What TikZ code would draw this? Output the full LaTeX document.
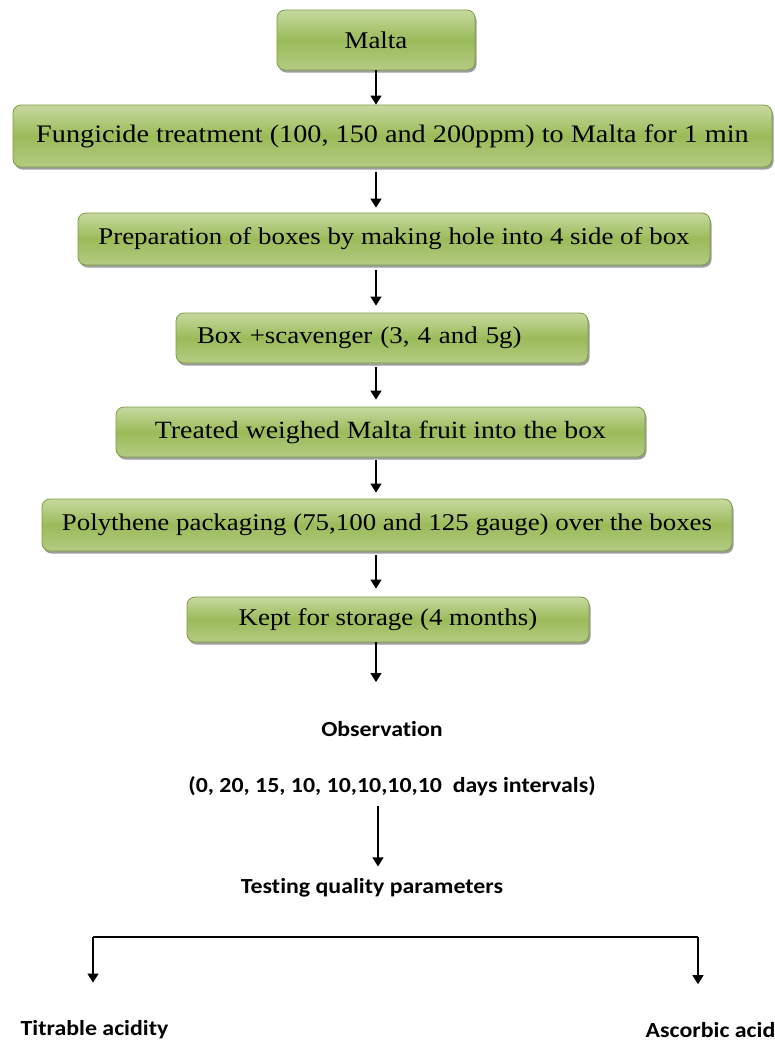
\documentclass[tikz,border=0pt]{standalone}
\usepackage{fontspec}
\setmainfont{Liberation Serif}
\newfontfamily\boxfont[FakeStretch=1.12]{Liberation Serif}
\newfontfamily\labfont[FakeStretch=1.11,Ligatures=NoCommon]{Carlito}
\usetikzlibrary{arrows.meta,shadows}
\definecolor{gLight}{HTML}{C6D9A0}
\definecolor{gMid}{HTML}{9BBB59}
\definecolor{gLow}{HTML}{B3CB83}
\definecolor{gEdge}{HTML}{7F9C45}
\tikzset{
  flowbox/.style={draw=gEdge, line width=0.8pt, rounded corners=8pt,
    top color=gLight, bottom color=gLow, middle color=gMid,
    drop shadow={shadow xshift=1.5pt, shadow yshift=-2.5pt, opacity=0.55, fill=black!70},
    inner sep=0pt, font=\boxfont\fontsize{24}{28}\selectfont, text=black},
  plainlab/.style={inner sep=0pt, font=\labfont\bfseries\fontsize{21.5}{25}\selectfont, text=black},
  arr/.style={line width=1.4pt, -{Triangle[width=11pt,length=9pt]}},
  ln/.style={line width=1.4pt}
}
\begin{document}
\begin{tikzpicture}[x=1pt,y=-1pt]
\useasboundingbox (0,0) rectangle (775,1042);
\coordinate (ax) at (376,0);
\node[flowbox, minimum width=198pt, minimum height=60pt] (b1) at (376,40) {Malta};
\node[flowbox, minimum width=759pt, minimum height=62pt, font=\boxfont\fontsize{25.2}{29}\selectfont] (b2) at (392.5,136) {Fungicide treatment (100, 150 and 200ppm) to Malta for 1 min};
\node[flowbox, minimum width=632pt, minimum height=52pt] (b3) at (394,239) {Preparation of boxes by making hole into 4 side of box};
\node[flowbox, minimum width=412pt, minimum height=50pt, text width=370pt, align=left, inner xsep=21pt] (b4) at (382,338) {Box +scavenger (3, 4 and 5g)};
\node[flowbox, minimum width=529pt, minimum height=50pt, font=\boxfont\fontsize{24.8}{29}\selectfont] (b5) at (380.5,432) {Treated weighed Malta fruit into the box};
\node[flowbox, minimum width=690pt, minimum height=52pt] (b6) at (387,525) {Polythene packaging (75,100 and 125 gauge) over the boxes};
\node[flowbox, minimum width=402pt, minimum height=45pt] (b7) at (388,619.5) {Kept for storage (4 months)};
\node[plainlab] (obs) at (382,729) {Observation};
\node[plainlab] (days) at (392,786) {(0, 20, 15, 10, 10,10,10,10~ days intervals)};
\node[plainlab] (test) at (372,888) {Testing quality parameters};
\node[plainlab] (tit) at (94.5,1030) {Titrable acidity};
\node[plainlab] (asc) at (710.5,1030) {Ascorbic acid};
\coordinate (t7) at (376,682);
\coordinate (sL) at (93,937);
\coordinate (sR) at (698,937);
\draw[arr] (b1.south -| ax) -- (b2.north -| ax);
\draw[arr, shorten <=5pt, shorten >=5pt] (b2.south -| ax) -- (b3.north -| ax);
\draw[arr, shorten <=5pt, shorten >=7pt] (b3.south -| ax) -- (b4.north -| ax);
\draw[arr, shorten <=4pt, shorten >=7pt] (b4.south -| ax) -- (b5.north -| ax);
\draw[arr, shorten <=3pt, shorten >=6pt] (b5.south -| ax) -- (b6.north -| ax);
\draw[arr, shorten <=4pt, shorten >=8pt] (b6.south -| ax) -- (b7.north -| ax);
\draw[arr] (b7.south -| ax) -- (t7);
\draw[arr, shorten <=10pt, shorten >=12pt] ([xshift=-14pt]days.south) -- ([xshift=6pt]test.north);
\draw[ln] (sL) -- (sR);
\draw[arr, shorten >=38pt] (sL) -- (tit.north -| sL);
\draw[arr, shorten >=38pt] (sR) -- (asc.north -| sR);
\end{tikzpicture}
\end{document}
